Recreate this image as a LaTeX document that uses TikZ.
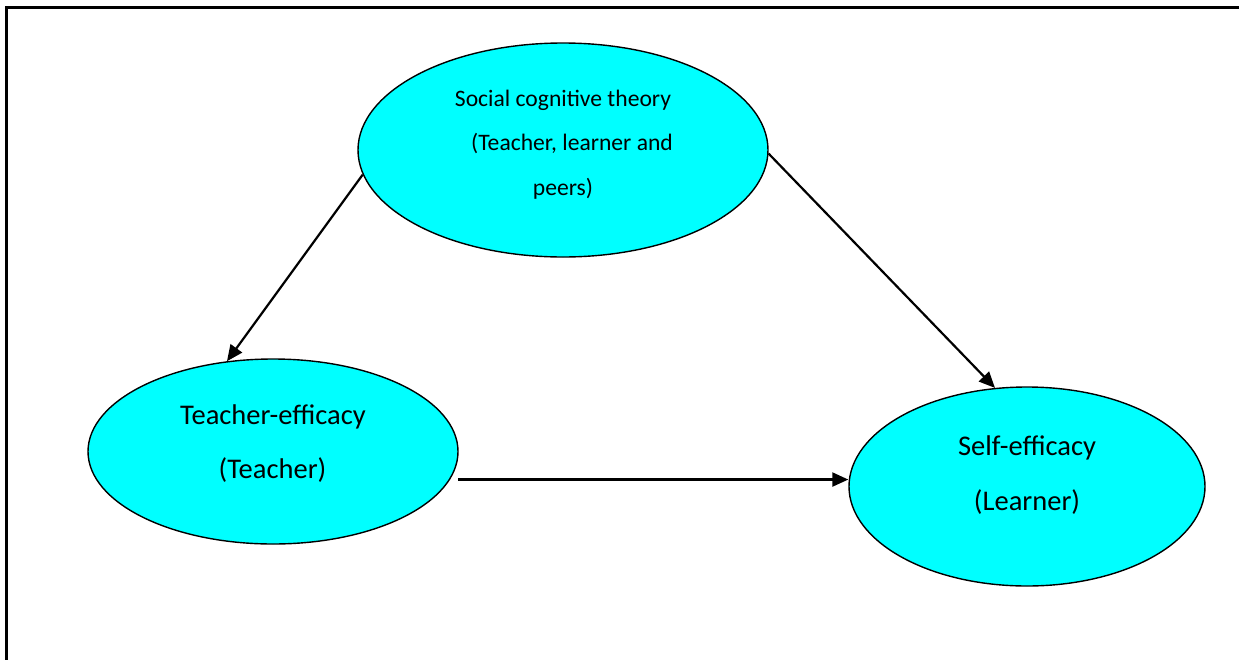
\documentclass[tikz,border=0pt]{standalone}
\usepackage{fontspec}
\setmainfont{Carlito}
\usetikzlibrary{shapes.geometric,arrows.meta,calc}

\definecolor{aqua}{RGB}{0,255,255}

\tikzset{
  bubble/.style={ellipse, draw=black, line width=1.4pt, fill=aqua, inner sep=0pt},
  bigtxt/.style={anchor=base, inner sep=0pt, font=\fontsize{28.5}{34}\selectfont},
  smalltxt/.style={anchor=base, inner sep=0pt, font=\fontsize{23.6}{28}\selectfont},
  link/.style={line width=2.2pt, -{Triangle[length=16pt,width=14pt]}},
  frame/.style={line width=2.7pt}
}

\begin{document}
\begin{tikzpicture}[x=1pt,y=-1pt]
  \useasboundingbox (0,0) rectangle (1239,659);

  % open frame: left and top edges only
  \draw[frame] (6.7,662) -- (6.7,7.3) -- (1242,7.3);

  % the three ellipses
  \node[bubble, minimum width=410pt, minimum height=214pt] (soc) at (563,150) {};
  \node[bubble, minimum width=370pt, minimum height=185pt] (teacher) at (273,451.5) {};
  \node[bubble, minimum width=356pt, minimum height=199pt] (self) at (1027,486.5) {};

  % labels
  \node[smalltxt] (soc1) at ($(soc)+(0,-43.3)$) {Social cognitive theory};
  \node[smalltxt] (soc2) at ($(soc)+(9,0.7)$) {(Teacher, learner and};
  \node[smalltxt] (soc3) at ($(soc)+(0,45)$) {peers)};

  \node[bigtxt] (teacher1) at ($(teacher)+(0,-27.2)$) {Teacher-efficacy};
  \node[bigtxt] (teacher2) at ($(teacher)+(-0.5,26.5)$) {(Teacher)};

  \node[bigtxt] (self1) at ($(self)+(0,-31.5)$) {Self-efficacy};
  \node[bigtxt] (self2) at ($(self)+(0,23.5)$) {(Learner)};

  % connectors
  \draw[link] (soc.187.9) -- (teacher.117);
  \draw[link] (soc.-1) -- (self.108.9);
  \coordinate (tstart) at ([xshift=8pt]teacher.-9.5);
  \draw[link] (tstart) -- (tstart -| self.west);
\end{tikzpicture}
\end{document}
